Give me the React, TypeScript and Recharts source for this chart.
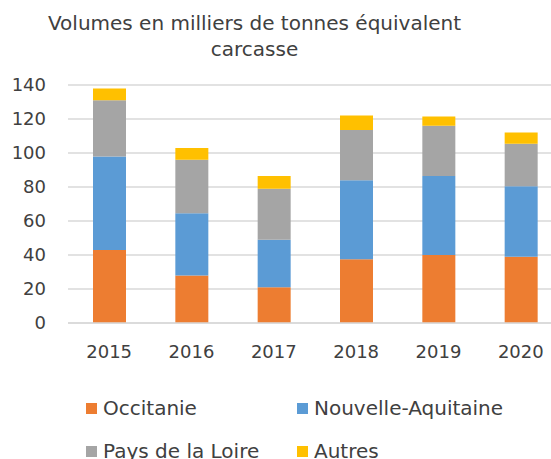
import React from "react";
import { BarChart, Bar, XAxis, YAxis, CartesianGrid } from "recharts";

const years = ["2015", "2016", "2017", "2018", "2019", "2020"];
const occitanie = [43, 28, 21, 37.5, 40, 39];
const nouvelleAquitaine = [55, 36.5, 28, 46.5, 46.5, 41.5];
const paysDeLaLoire = [33, 31.5, 30, 29.5, 29.5, 25];
const autres = [7, 7, 7.5, 8.5, 5.5, 6.5];
const yTicks = [0, 20, 40, 60, 80, 100, 120, 140];

const series = [
  { key: "occitanie", name: "Occitanie", color: "#ED7D31" },
  { key: "nouvelleAquitaine", name: "Nouvelle-Aquitaine", color: "#5B9BD5" },
  { key: "paysDeLaLoire", name: "Pays de la Loire", color: "#A5A5A5" },
  { key: "autres", name: "Autres", color: "#FFC000" },
];

const data = years.map((y, i) => ({
  year: y,
  occitanie: occitanie[i],
  nouvelleAquitaine: nouvelleAquitaine[i],
  paysDeLaLoire: paysDeLaLoire[i],
  autres: autres[i],
}));

const FONT = "'DejaVu Sans', sans-serif";
const TEXT = "#404040";

const legendPos = [
  { left: 86, top: 396 },
  { left: 297, top: 396 },
  { left: 86, top: 439 },
  { left: 297, top: 439 },
];

export default function App() {
  return (
    <div style={{ position: "absolute", left: 0, top: 0, width: 551, height: 459, overflow: "hidden", background: "#fff" }}>
      <div
        style={{
          position: "absolute",
          left: 0,
          top: 10,
          width: 509,
          textAlign: "center",
          fontFamily: FONT,
          fontSize: 20,
          lineHeight: "26px",
          color: TEXT,
          whiteSpace: "nowrap",
        }}
      >
        Volumes en milliers de tonnes équivalent
        <br />
        carcasse
      </div>
      <div style={{ position: "absolute", left: 0, top: 0 }}>
        <BarChart width={580} height={459} data={data} margin={{ top: 85, right: 18, bottom: 106, left: 8 }}>
          <CartesianGrid vertical={false} stroke="#D9D9D9" strokeWidth={1.5} />
          <XAxis
            dataKey="year"
            interval={0}
            axisLine={{ stroke: "#D9D9D9", strokeWidth: 1.5 }}
            tickLine={false}
            height={30}
            tick={{ fill: TEXT, fontSize: 18, fontFamily: FONT, dy: 14 }}
          />
          <YAxis
            width={60}
            domain={[0, 140]}
            ticks={yTicks}
            interval={0}
            axisLine={false}
            tickLine={false}
            tick={{ fill: TEXT, fontSize: 18, fontFamily: FONT, dx: -14 }}
          />
          {series.map((s) => (
            <Bar
              key={s.key}
              dataKey={s.key}
              name={s.name}
              stackId="a"
              fill={s.color}
              barSize={33}
              isAnimationActive={false}
            />
          ))}
        </BarChart>
      </div>
      {series.map((s, i) => (
        <div
          key={s.key}
          style={{
            position: "absolute",
            left: legendPos[i].left,
            top: legendPos[i].top,
            height: 24,
            display: "flex",
            alignItems: "center",
            fontFamily: FONT,
            fontSize: 20,
            lineHeight: "24px",
            color: TEXT,
            whiteSpace: "nowrap",
          }}
        >
          <span style={{ display: "inline-block", width: 11, height: 11, background: s.color, marginRight: 6 }} />
          <span>{s.name}</span>
        </div>
      ))}
    </div>
  );
}
